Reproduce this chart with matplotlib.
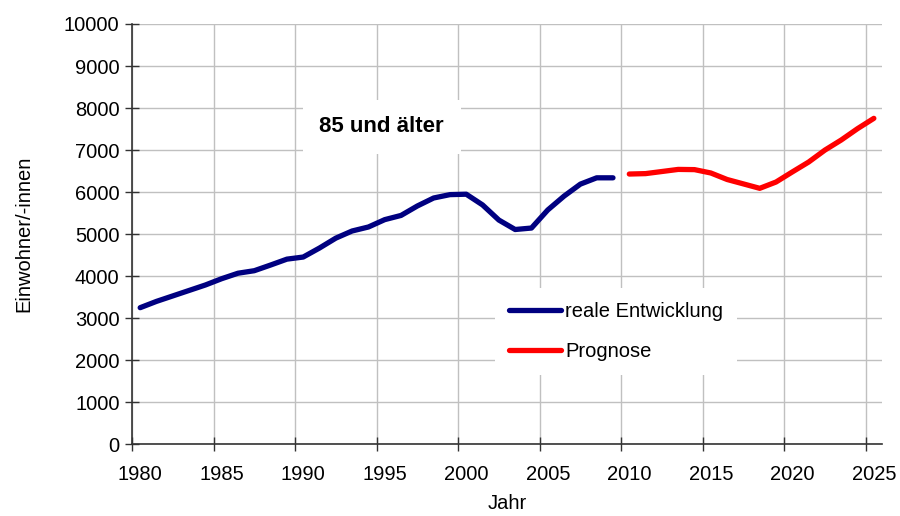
import matplotlib
matplotlib.use("Agg")
import matplotlib.pyplot as plt

plt.rcParams["font.family"] = ["Liberation Sans", "DejaVu Sans"]

# ---- data -----------------------------------------------------------------
years_real = list(range(1980, 2010))
real = [3250, 3400, 3530, 3660, 3790, 3940, 4070, 4130, 4265, 4405,
        4455, 4670, 4905, 5075, 5170, 5345, 5445, 5670, 5860, 5940,
        5950, 5695, 5335, 5110, 5145, 5575, 5905, 6190, 6340, 6340]

years_prog = list(range(2010, 2026))
prog = [6430, 6440, 6490, 6540, 6535, 6455, 6300, 6195, 6090, 6240,
        6480, 6715, 7000, 7240, 7510, 7755]

tick_years = list(range(1980, 2030, 5))
y_ticks = list(range(0, 11000, 1000))

# ---- figure ---------------------------------------------------------------
fig = plt.figure(figsize=(9, 5.16), dpi=100)
ax = fig.add_axes([0.1467, 0.139, 0.8333, 0.8145])

ln_r, = ax.plot(years_real, real, color="#000080", linewidth=3.8,
                solid_capstyle="round", solid_joinstyle="round", label="reale Entwicklung")
ln_p, = ax.plot(years_prog, prog, color="#ff0000", linewidth=3.8,
                solid_capstyle="round", solid_joinstyle="round", label="Prognose")

ax.set_xlim(1979.5, 2025.5)
ax.set_ylim(0, 10000)

# category-style axis: tick marks between categories, labels centred on them
ax.set_xticks([y - 0.5 for y in tick_years])
ax.set_xticklabels([])
ax.set_xticks(tick_years, minor=True)
ax.set_xticklabels([str(y) for y in tick_years], minor=True, fontsize=14.5)
ax.tick_params(axis="x", which="minor", length=0, pad=15)
ax.tick_params(axis="x", which="major", direction="inout", length=10, width=1, color="#333333")
ax.set_yticks(y_ticks)
ax.set_yticklabels([str(v) for v in y_ticks], fontsize=14.5)
ax.tick_params(axis="y", direction="inout", length=10, width=1, color="#333333", pad=4)

ax.grid(True, which="major", color="#c0c0c0", linewidth=1)
ax.set_axisbelow(True)
for s in ("top", "right"):
    ax.spines[s].set_visible(False)
for s in ("left", "bottom"):
    ax.spines[s].set_color("#333333")
    ax.spines[s].set_linewidth(1.2)

ax.set_xlabel("Jahr", fontsize=14.5, labelpad=7)
ax.set_ylabel("Einwohner/-innen", fontsize=14.5, labelpad=22)

ax.text(0.333, 0.755, "85 und älter", transform=ax.transAxes, fontsize=16,
        fontweight="bold", ha="center", va="center",
        bbox=dict(boxstyle="square,pad=0.75", facecolor="white", edgecolor="none"))

leg = ax.legend(handles=[ln_r, ln_p], loc="upper left", bbox_to_anchor=(0.47, 0.395),
                frameon=True, fontsize=14.5, handlelength=2.6, handletextpad=0.2,
                labelspacing=1.0, borderpad=0.7, fancybox=False)
leg.get_frame().set_facecolor("white")
leg.get_frame().set_edgecolor("none")
leg.get_frame().set_alpha(1)

fig.savefig("out.png", dpi=100)
